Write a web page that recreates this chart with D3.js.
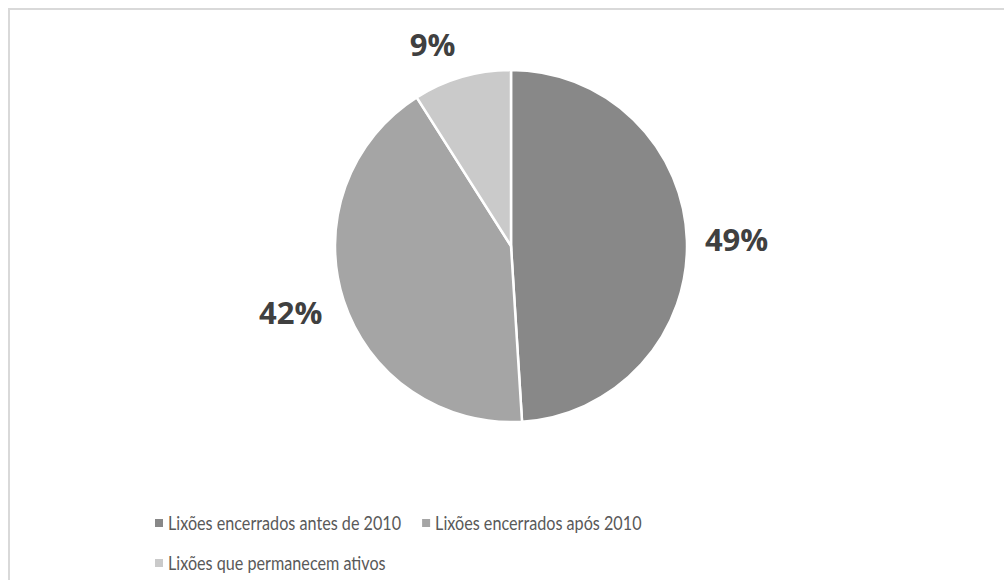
<!DOCTYPE html>
<meta charset="utf-8">
<style>
  body { margin: 0; background: #fff; }
  .label { font-family: "Open Sans", sans-serif; font-weight: bold; fill: #404040; }
  .legend text { font-family: Lato, sans-serif; fill: #595959; }
</style>
<body>
<svg id="chart" width="1004" height="580"></svg>
</body>
<script src="https://d3js.org/d3.v7.min.js"></script>
<script>

var categories = ["Lixões encerrados antes de 2010", "Lixões encerrados após 2010", "Lixões que permanecem ativos"];
var values = [49, 42, 9];
var labels = ["49%", "42%", "9%"];
var colors = ["#888888", "#a5a5a5", "#cacaca"];

var svg = d3.select("#chart"),
    cx = 511, cy = 246, radius = 176;

// chart area border (right and bottom edges fall outside the picture)
svg.append("rect")
    .attr("x", 9).attr("y", 9)
    .attr("width", 1100).attr("height", 700)
    .attr("fill", "none")
    .attr("stroke", "#d9d9d9")
    .attr("stroke-width", 2);

var data = categories.map(function(c, i) { return {name: c, value: values[i], label: labels[i]}; });

var pie = d3.pie().sort(null).value(function(d) { return d.value; });
var arc = d3.arc().innerRadius(0).outerRadius(radius);
var color = d3.scaleOrdinal().domain(categories).range(colors);

var g = svg.append("g").attr("transform", "translate(" + cx + "," + cy + ")");
var arcs = pie(data);

g.selectAll("path")
    .data(arcs)
    .enter().append("path")
    .attr("d", arc)
    .attr("fill", function(d) { return color(d.data.name); })
    .attr("stroke", "#fff")
    .attr("stroke-width", 2.5);

// outside-end labels: box pushed out from a point just past the rim
g.selectAll(".label")
    .data(arcs)
    .enter().append("text")
    .attr("class", "label")
    .style("font-size", "31px")
    .attr("text-anchor", "middle")
    .attr("dy", "0.36em")
    .text(function(d) { return d.data.label; })
    .each(function(d) {
      var a = (d.startAngle + d.endAngle) / 2,
          s = Math.sin(a), c = Math.cos(a),
          w = this.getComputedTextLength(), h = 30,
          r = radius + (s < -0.5 ? 24 : 18);
      d3.select(this)
        .attr("x", r * s + s * w / 2 - (c > 0.9 ? 18 : 0))
        .attr("y", -r * c - c * h / 2);
    });

// legend (Calibri-like narrow text)
var legend = svg.append("g").attr("class", "legend");
var rows = [[0, 1], [2]];
var squeeze = 0.83;
rows.forEach(function(row, ri) {
  var x = 155, y = 523 + ri * 40;
  row.forEach(function(i) {
    var item = legend.append("g").attr("transform", "translate(" + x + "," + y + ")");
    item.append("rect")
        .attr("x", 0).attr("y", -4)
        .attr("width", 8).attr("height", 8)
        .attr("fill", colors[i]);
    var t = item.append("text")
        .attr("transform", "translate(13,0) scale(" + squeeze + ",1)")
        .attr("dy", "0.35em")
        .style("font-size", "19.5px")
        .text(categories[i]);
    x += 13 + t.node().getComputedTextLength() * squeeze + 21;
  });
});

</script>
